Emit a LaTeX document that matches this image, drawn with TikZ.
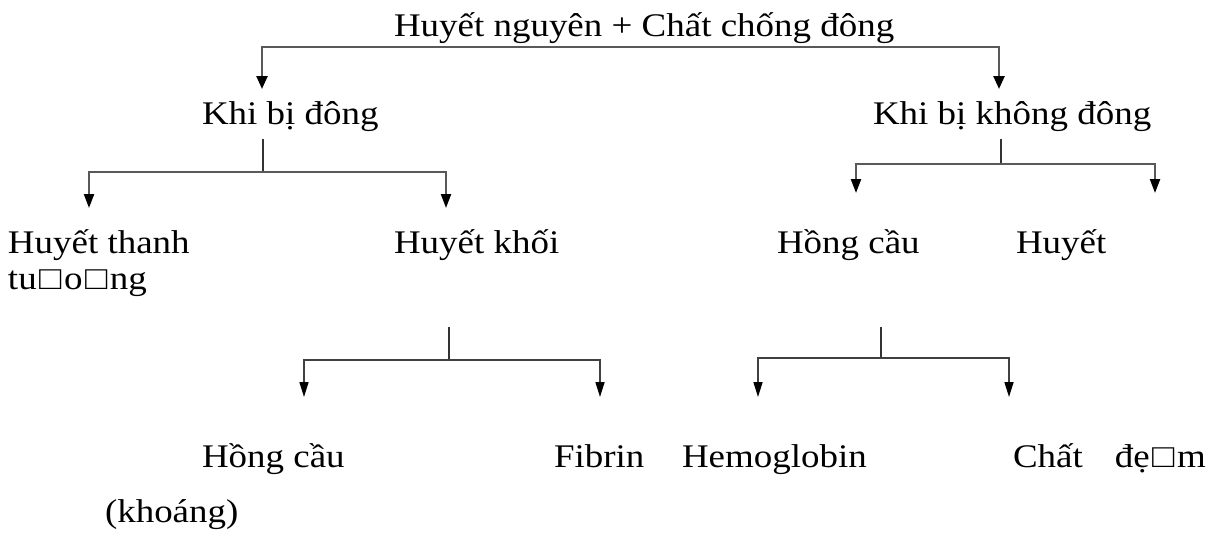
\documentclass[tikz,border=0pt]{standalone}
\usepackage{fontspec}
\setmainfont{Liberation Serif}[FakeStretch=1.12]
\usetikzlibrary{arrows.meta}
\newcommand{\bx}{\hspace{2.5pt}□\hspace{2.5pt}}
\begin{document}
\begin{tikzpicture}[x=1pt,y=-1pt,
  txt/.style={anchor=base west, inner sep=0pt, outer sep=0pt, font=\fontsize{33}{40}\selectfont},
  bigconn/.style={draw=black!65, line width=2.4pt, line join=miter,
    {Triangle[length=13pt,width=11pt,black]}-{Triangle[length=13pt,width=11pt,black]}},
  midconn/.style={draw=black!65, line width=2.2pt, line join=miter,
    {Triangle[length=14pt,width=10pt,black]}-{Triangle[length=14pt,width=10pt,black]}},
  smallconn/.style={draw=black!75, line width=1.6pt, line join=miter,
    {Triangle[length=15pt,width=9pt,black]}-{Triangle[length=15pt,width=9pt,black]}},
  stem/.style={draw=black!80, line width=1.6pt}]
\useasboundingbox[fill=white] (0,0) rectangle (1217,541);

% texts
\node[txt] (top) at (394,36) {Huyết nguyên + Chất chống đông};
\node[txt] (kd) at (202,124) {Khi bị đông};
\node[txt] (kkd) at (873,124) {Khi bị không đông};
\node[txt] (ht) at (8,253) {Huyết thanh};
\node[txt] (ht2) at (8,289) {tu\bx o\bx ng};
\node[txt] (hk) at (394,253) {Huyết khối};
\node[txt] (hc) at (777,253) {Hồng cầu};
\node[txt] (hy) at (1016,253) {Huyết};
\node[txt] (hc2) at (202,467) {Hồng cầu};
\node[txt] (kh) at (105,522) {(khoáng)};
\node[txt] (fb) at (554,467) {Fibrin};
\node[txt] (hg) at (682,467) {Hemoglobin};
\node[txt] (cd) at (1013,467) {Chất\hspace{32pt}đẹ\bx m};

% connector points
\coordinate (kdIn) at (262,89);
\coordinate (kkdIn) at (999,89);
\coordinate (topBusL) at (262,47);
\coordinate (topBusR) at (999,47);

\coordinate (kdOut) at (263,139);
\coordinate (kdBus) at (263,172);
\coordinate (htIn) at (89,208);
\coordinate (hkIn) at (446,208);

\coordinate (kkdOut) at (1001,139);
\coordinate (kkdBus) at (1001,164);
\coordinate (hcIn) at (856,193);
\coordinate (hyIn) at (1155,193);

\coordinate (hkOut) at (449,327);
\coordinate (hkBus) at (449,360);
\coordinate (hc2In) at (304,397);
\coordinate (fbIn) at (600,397);

\coordinate (hcOut) at (881,327);
\coordinate (hcBus) at (881,358);
\coordinate (hgIn) at (758,397);
\coordinate (cdIn) at (1009,397);

% connectors
\draw[bigconn] (kdIn) -- (topBusL) -- (topBusR) -- (kkdIn);

\draw[stem] (kdOut) -- (kdBus);
\draw[midconn] (htIn) |- (kdBus) -| (hkIn);

\draw[stem] (kkdOut) -- (kkdBus);
\draw[midconn] (hcIn) |- (kkdBus) -| (hyIn);

\draw[stem] (hkOut) -- (hkBus);
\draw[smallconn] (hc2In) |- (hkBus) -| (fbIn);

\draw[stem] (hcOut) -- (hcBus);
\draw[smallconn] (hgIn) |- (hcBus) -| (cdIn);
\end{tikzpicture}
\end{document}
